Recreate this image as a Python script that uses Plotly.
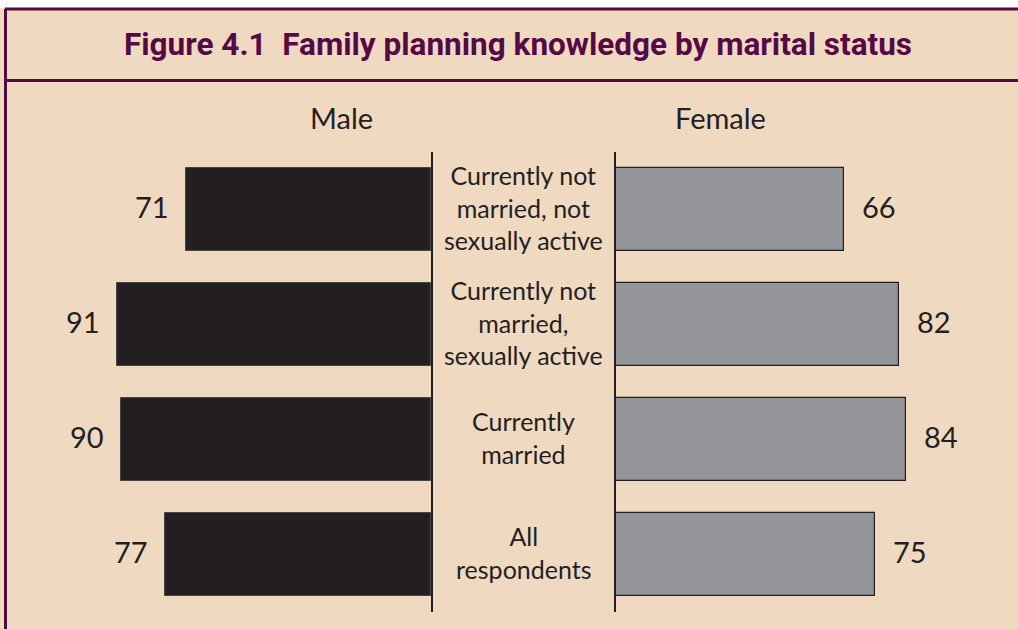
import plotly.graph_objects as go

categories = ["Currently not<br>married, not<br>sexually active",
              "Currently not<br>married,<br>sexually active",
              "Currently<br>married",
              "All<br>respondents"]
male = [71, 91, 90, 77]
female = [66, 82, 84, 75]
title_text = "Figure 4.1  Family planning knowledge by marital status"

W, H = 1018, 629
BG = "#F0D9C1"
PURPLE = "#560A45"
DARK = "#231F20"
GRAY = "#939598"
BODY_FONT = "Lato"

idx = list(range(len(categories)))

fig = go.Figure()
fig.add_trace(go.Bar(x=male, y=idx, orientation="h", xaxis="x", yaxis="y",
                     marker=dict(color=DARK, line=dict(color="#4a4445", width=1)),
                     width=0.72, hoverinfo="skip", showlegend=False))
fig.add_trace(go.Bar(x=female, y=idx, orientation="h", xaxis="x2", yaxis="y2",
                     marker=dict(color=GRAY, line=dict(color=DARK, width=1.2)),
                     width=0.72, hoverinfo="skip", showlegend=False))

ann = []
for i, v in enumerate(male):
    ann.append(dict(x=v, y=i, xref="x", yref="y", text=str(v), showarrow=False,
                    xanchor="right", yanchor="middle", xshift=-15, yshift=3,
                    font=dict(size=29, color=DARK, family=BODY_FONT)))
for i, v in enumerate(female):
    ann.append(dict(x=v, y=i, xref="x2", yref="y2", text=str(v), showarrow=False,
                    xanchor="left", yanchor="middle", xshift=16, yshift=3,
                    font=dict(size=29, color=DARK, family=BODY_FONT)))
for i, c in enumerate(categories):
    ann.append(dict(x=523.5 / W, y=i, xref="paper", yref="y", text=c, showarrow=False,
                    xanchor="center", yanchor="middle", yshift=2,
                    font=dict(size=25, color=DARK, family=BODY_FONT)))
ann.append(dict(x=341 / W, y=1 - 117 / H, xref="paper", yref="paper", text="Male",
                xanchor="center", yanchor="middle",
                showarrow=False, font=dict(size=29, color=DARK, family=BODY_FONT)))
ann.append(dict(x=720 / W, y=1 - 117 / H, xref="paper", yref="paper", text="Female",
                xanchor="center", yanchor="middle",
                showarrow=False, font=dict(size=29, color=DARK, family=BODY_FONT)))
ann.append(dict(x=518 / W, y=1 - 44 / H, xref="paper", yref="paper", text="<b>" + title_text + "</b>",
                xanchor="center", yanchor="middle",
                showarrow=False, font=dict(size=31.5, color=PURPLE, family="Roboto")))

shapes = [
    dict(type="rect", xref="paper", yref="paper", x0=-0.01, x1=1.01, y0=1 - 8 / H, y1=1.01,
         fillcolor="white", line=dict(width=0), layer="below"),
    dict(type="line", xref="paper", yref="paper", x0=5 / W, x1=1.01, y0=1 - 9 / H, y1=1 - 9 / H,
         line=dict(color=PURPLE, width=3)),
    dict(type="line", xref="paper", yref="paper", x0=5.5 / W, x1=5.5 / W, y0=-0.01, y1=1 - 9 / H,
         line=dict(color=PURPLE, width=3)),
    dict(type="line", xref="paper", yref="paper", x0=5 / W, x1=1.01, y0=1 - 80.5 / H, y1=1 - 80.5 / H,
         line=dict(color=PURPLE, width=3)),
]

fig.update_layout(
    width=W, height=H, margin=dict(l=0, r=0, t=0, b=0),
    paper_bgcolor=BG, plot_bgcolor="rgba(0,0,0,0)",
    bargap=0,
    xaxis=dict(domain=[86 / W, 431 / W], range=[100, 0], visible=False, fixedrange=True),
    xaxis2=dict(domain=[616 / W, 961 / W], range=[0, 100], visible=False, fixedrange=True),
    yaxis=dict(domain=[1 - 612 / H, 1 - 152 / H], range=[3.5, -0.5], anchor="x", side="right",
               showline=True, linecolor=DARK, linewidth=2, showticklabels=False, ticks="",
               showgrid=False, zeroline=False, fixedrange=True),
    yaxis2=dict(domain=[1 - 612 / H, 1 - 152 / H], range=[3.5, -0.5], anchor="x2", side="left",
                showline=True, linecolor=DARK, linewidth=2, showticklabels=False, ticks="",
                showgrid=False, zeroline=False, fixedrange=True),
    annotations=ann, shapes=shapes,
)

fig.write_html("out.html", config={"displayModeBar": False},
               post_script="document.body.style.margin='0';document.body.style.padding='0';")
